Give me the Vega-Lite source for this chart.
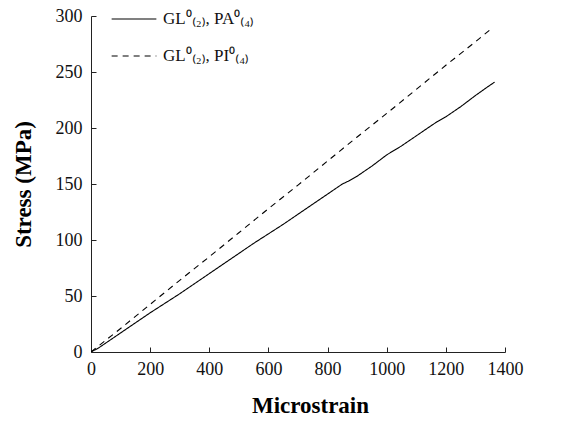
{
  "$schema": "https://vega.github.io/schema/vega-lite/v6.json",
  "width": 414,
  "height": 336,
  "autosize": "none",
  "padding": {"left": 91, "top": 16, "right": 60, "bottom": 69},
  "background": "white",
  "config": {
    "view": {"stroke": null},
    "font": "Liberation Serif",
    "axis": {
      "domainColor": "#222",
      "tickColor": "#222",
      "labelColor": "#111",
      "titleColor": "#000",
      "labelFont": "Liberation Serif",
      "titleFont": "Liberation Serif",
      "labelFontSize": 18,
      "titleFontSize": 23,
      "titleFontWeight": "bold",
      "grid": false,
      "format": "d",
      "labelFlush": false,
      "labelOverlap": false
    }
  },
  "data": {
    "values": [
      {"strain": 0, "stress": 0, "series": "A"},
      {"strain": 25, "stress": 3.5, "series": "A"},
      {"strain": 50, "stress": 8, "series": "A"},
      {"strain": 100, "stress": 17, "series": "A"},
      {"strain": 150, "stress": 26, "series": "A"},
      {"strain": 200, "stress": 35, "series": "A"},
      {"strain": 250, "stress": 43.5, "series": "A"},
      {"strain": 300, "stress": 52, "series": "A"},
      {"strain": 350, "stress": 61, "series": "A"},
      {"strain": 400, "stress": 70, "series": "A"},
      {"strain": 450, "stress": 79, "series": "A"},
      {"strain": 500, "stress": 88, "series": "A"},
      {"strain": 550, "stress": 97, "series": "A"},
      {"strain": 600, "stress": 105.5, "series": "A"},
      {"strain": 650, "stress": 114, "series": "A"},
      {"strain": 700, "stress": 123, "series": "A"},
      {"strain": 750, "stress": 132, "series": "A"},
      {"strain": 800, "stress": 141, "series": "A"},
      {"strain": 850, "stress": 150, "series": "A"},
      {"strain": 870, "stress": 152.5, "series": "A"},
      {"strain": 900, "stress": 157, "series": "A"},
      {"strain": 950, "stress": 166, "series": "A"},
      {"strain": 1000, "stress": 176, "series": "A"},
      {"strain": 1050, "stress": 184, "series": "A"},
      {"strain": 1100, "stress": 193, "series": "A"},
      {"strain": 1150, "stress": 202, "series": "A"},
      {"strain": 1170, "stress": 205.5, "series": "A"},
      {"strain": 1200, "stress": 210, "series": "A"},
      {"strain": 1250, "stress": 219, "series": "A"},
      {"strain": 1300, "stress": 229, "series": "A"},
      {"strain": 1340, "stress": 236.5, "series": "A"},
      {"strain": 1365, "stress": 241, "series": "A"},
      {"strain": 0, "stress": 0, "series": "B"},
      {"strain": 100, "stress": 21, "series": "B"},
      {"strain": 200, "stress": 42.5, "series": "B"},
      {"strain": 300, "stress": 64, "series": "B"},
      {"strain": 400, "stress": 85, "series": "B"},
      {"strain": 500, "stress": 106.5, "series": "B"},
      {"strain": 600, "stress": 128, "series": "B"},
      {"strain": 700, "stress": 149, "series": "B"},
      {"strain": 800, "stress": 170.5, "series": "B"},
      {"strain": 900, "stress": 192, "series": "B"},
      {"strain": 1000, "stress": 213, "series": "B"},
      {"strain": 1100, "stress": 234.5, "series": "B"},
      {"strain": 1200, "stress": 256, "series": "B"},
      {"strain": 1300, "stress": 277, "series": "B"},
      {"strain": 1360, "stress": 290, "series": "B"}
    ]
  },
  "mark": {"type": "line", "color": "black", "strokeWidth": 1.1, "clip": true},
  "encoding": {
    "x": {
      "field": "strain",
      "type": "quantitative",
      "scale": {"domain": [0, 1400], "nice": false},
      "axis": {
        "title": "Microstrain",
        "values": [0, 200, 400, 600, 800, 1000, 1200, 1400],
        "tickSize": -5,
        "labelPadding": 13,
        "titlePadding": 16,
        "titleX": 219
      }
    },
    "y": {
      "field": "stress",
      "type": "quantitative",
      "scale": {"domain": [0, 300], "nice": false},
      "axis": {
        "title": "Stress (MPa)",
        "values": [0, 50, 100, 150, 200, 250, 300],
        "tickSize": -5,
        "labelPadding": 14,
        "titlePadding": 20
      }
    },
    "strokeDash": {
      "field": "series",
      "type": "nominal",
      "scale": {"domain": ["A", "B"], "range": [[1, 0], [6, 5]]},
      "legend": {
        "title": null,
        "orient": "none",
        "legendX": 20,
        "legendY": -20,
        "labelExpr": "datum.value == 'A' ? 'GL⁰₍₂₎, PA⁰₍₄₎' : 'GL⁰₍₂₎, PI⁰₍₄₎'",
        "labelFont": "Liberation Serif",
        "labelFontSize": 17,
        "labelColor": "#111",
        "symbolType": "stroke",
        "symbolSize": 2000,
        "symbolStrokeColor": "black",
        "symbolStrokeWidth": 1.1,
        "rowPadding": 6,
        "labelOffset": 6
      }
    }
  }
}
